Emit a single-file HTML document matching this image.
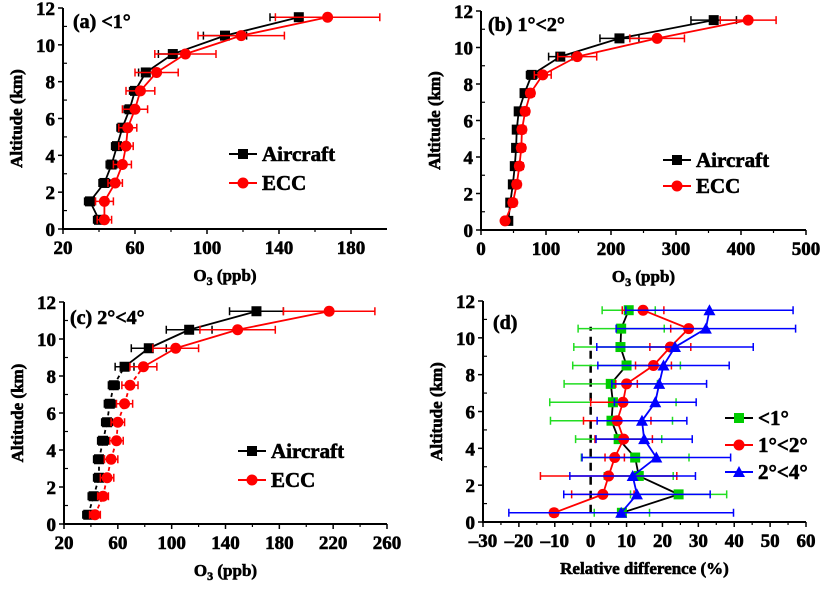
<!DOCTYPE html>
<html><head><meta charset="utf-8"><style>
body{margin:0;background:#fff;}
</style></head><body>
<svg id="c" width="823" height="584" viewBox="0 0 823 584"></svg>
<script>
const alts=[0.5,1.5,2.5,3.5,4.5,5.5,6.5,7.5,8.5,9.5,10.5,11.5];
const aAir=[40,35,43,47,50,53,57,60,66,81,110,151];
const aAirErr=[3,3,3,3,3,3,3,3,4,8,12,16];
const aEcc=[43,43,49,53,55,56,60,63,72,88,119,167];
const aEccErr=[4,5,4,5,4,5,7,8,12,17,24,29];
const bAir=[42,45,49,52,54,55,58,67,78,122,213,358];
const bAirErr=[3,3,3,3,3,3,3,4,8,18,30,35];
const bEcc=[37,49,55,59,62,63,68,76,95,148,271,411];
const bEccErr=[5,6,6,6,6,6,6,6,13,30,42,43];
const cAir=[38,42,46,46,49,52,54,57,65,83,113,163];
const cAirErr=[4,4,4,4,4,4,4,4,7,13,17,20];
const cEcc=[43,49,52,55,59,60,65,69,79,103,149,217];
const cEccErr=[4,4,5,5,5,5,6,6,10,17,28,34];
const dLt1=[8.7,24.5,13.4,12.4,7.8,5.8,6.2,5.6,10,8.3,8.5,10.6];
const dLt1Err=[7.7,13.4,9.6,15,12,17,17.6,13,15,13,12,7.4];
const d12=[-10.2,3.4,5,6.7,9.2,7.4,9,10,17.5,22.2,27.3,14.6];
const d12Err=[1,8.7,19,2.7,8,9.4,9,3,5,5.7,5,5.8];
const d24=[8.5,12.9,11.7,18.3,14.9,14.3,18,19.1,20.3,23.5,32.1,33.1];
const d24Err=[31.3,20.4,17.5,20.7,13.4,12.5,11.4,13.2,18.3,21.8,25,23.3];
const aTicks=[20,60,100,140,180];
const bTicks=[0,100,200,300,400,500];
const cTicks=[20,60,100,140,180,220,260];
const dTicks=[-30,-20,-10,0,10,20,30,40,50,60];
const yTicks=[0,2,4,6,8,10,12];

const NS="http://www.w3.org/2000/svg";
const svg=document.getElementById('c');
function el(t,a,p){const e=document.createElementNS(NS,t);for(const k in a)e.setAttribute(k,a[k]);(p||svg).appendChild(e);return e;}
function txt(a,p){a['font-family']="'Liberation Serif', serif";a['font-weight']='bold';a['stroke']='#000';a['stroke-width']='0.6';a['fill']='#000';return el('text',a,p);}

function panel(cfg){
  const g=el('g',{});
  
  
  const X=v=>cfg.x0+(v-cfg.xmin)/(cfg.xmax-cfg.xmin)*(cfg.x1-cfg.x0);
  const Y=v=>cfg.y0-(v/12)*(cfg.y0-cfg.y1);
  const ax=el('path',{d:`M${cfg.x0},${cfg.y1} V${cfg.y0} H${cfg.x1}`,stroke:'#000','stroke-width':2,fill:'none'},g);
  
  
  const step=cfg.xt[1]-cfg.xt[0];
  cfg.xt.forEach((t,i)=>{
    el('line',{x1:X(t),x2:X(t),y1:cfg.y0,y2:cfg.y0+5,stroke:'#000','stroke-width':1.5},g);
    if(i<cfg.xt.length-1)el('line',{x1:X(t+step/2),x2:X(t+step/2),y1:cfg.y0,y2:cfg.y0+3,stroke:'#000','stroke-width':1.2},g);
    const tx=txt({x:X(t),y:cfg.y0+25,'text-anchor':'middle','font-size':19},g);
    tx.textContent=(t<0?'\u2013'+(-t):t);
    
    
  });
  yTicks.forEach((t,i)=>{
    el('line',{x1:cfg.x0-5,x2:cfg.x0,y1:Y(t),y2:Y(t),stroke:'#000','stroke-width':1.5},g);
    if(i<yTicks.length-1)el('line',{x1:cfg.x0,x2:cfg.x0+4,y1:Y(t+1),y2:Y(t+1),stroke:'#000','stroke-width':1.2},g);
    const tx=txt({x:cfg.x0-8,y:Y(t)+7,'text-anchor':'end','font-size':19},g);
    tx.textContent=t;
    
    
  });
  const yt=txt({x:0,y:0,'text-anchor':'middle','font-size':17,transform:`translate(${cfg.x0-41},${(cfg.y0+cfg.y1)/2}) rotate(-90)`},g);
  yt.textContent='Altitude (km)';
  
  
  const xt=txt({x:(cfg.x0+cfg.x1)/2,y:cfg.y0+52,'text-anchor':'middle','font-size':17},g);
  if(cfg.xtitle){xt.textContent=cfg.xtitle;}
  else{xt.innerHTML='O<tspan font-size="12" dy="4">3</tspan><tspan dy="-4"> (ppb)</tspan>';}
  
  
  const pl=txt({x:cfg.lx,y:cfg.ly,'font-size':20},g);
  pl.textContent=cfg.label;
  
  
  if(cfg.zero){
    const z=el('line',{x1:X(0),x2:X(0),y1:Y(0.5),y2:Y(10.6),stroke:'#000','stroke-width':2.5,'stroke-dasharray':'8,6'},g);
    
    
  }
  cfg.series.forEach(s=>{
    const sg=el('g',{},g);
    
    
    s.v.forEach((v,i)=>{
      const y=Y(alts[i]),a=X(v-s.e[i]),b=X(v+s.e[i]);
      const eb=el('path',{d:`M${a},${y}H${b}M${a},${y-4}V${y+4}M${b},${y-4}V${y+4}`,stroke:s.ec,'stroke-width':1.5,fill:'none'},sg);
      
      
    });
    for(let i=0;i<s.v.length-1;i++){
      const ln=el('line',{x1:X(s.v[i]),y1:Y(alts[i]),x2:X(s.v[i+1]),y2:Y(alts[i+1]),stroke:s.lc,'stroke-width':1.8},sg);
      if(cfg.dash&&alts[i+1]<=8.5)ln.setAttribute('stroke-dasharray','4,3');
      
      
    }
    s.v.forEach((v,i)=>{
      const m=marker(s.m,X(v),Y(alts[i]),s.mc,sg);
      
      
    });
  });
  cfg.series.forEach((s,i)=>{
    const y=cfg.legY+i*cfg.legDy;
    const lg=el('g',{},g);
    
    
    el('line',{x1:cfg.legX,x2:cfg.legX+28,y1:y,y2:y,stroke:s.lc,'stroke-width':2},lg);
    marker(s.m,cfg.legX+14,y,s.mc,lg);
    const t=txt({x:cfg.legX+33,y:y+7,'font-size':21},lg);
    t.textContent=s.label;
  });
}
function marker(m,x,y,c,p){
  if(m==='s')return el('rect',{x:x-5,y:y-5,width:10,height:10,fill:c},p);
  if(m==='c')return el('circle',{cx:x,cy:y,r:5.5,fill:c},p);
  return el('path',{d:`M${x},${y-6}L${x+6},${y+5}L${x-6},${y+5}Z`,fill:c},p);
}
panel({name:'panel-a',x0:63,x1:387,xmin:20,xmax:200,y0:229,y1:8,xt:aTicks,label:'(a) <1°',lx:73,ly:28,legX:229,legY:154,legDy:29,
 series:[{name:'aircraft',label:'Aircraft',v:aAir,e:aAirErr,m:'s',mc:'#000',lc:'#000',ec:'#000'},{name:'ecc',label:'ECC',v:aEcc,e:aEccErr,m:'c',mc:'#f00',lc:'#f00',ec:'#f00'}]});
panel({name:'panel-b',x0:481,x1:806,xmin:0,xmax:500,y0:230,y1:11,xt:bTicks,label:'(b) 1°<2°',lx:488,ly:31,legX:663,legY:160,legDy:26,
 series:[{name:'aircraft',label:'Aircraft',v:bAir,e:bAirErr,m:'s',mc:'#000',lc:'#000',ec:'#000'},{name:'ecc',label:'ECC',v:bEcc,e:bEccErr,m:'c',mc:'#f00',lc:'#f00',ec:'#f00'}]});
panel({name:'panel-c',x0:64,x1:387,xmin:20,xmax:260,y0:524,y1:302,xt:cTicks,label:'(c) 2°<4°',lx:70,ly:324,legX:238,legY:451,legDy:29,dash:true,
 series:[{name:'aircraft',label:'Aircraft',v:cAir,e:cAirErr,m:'s',mc:'#000',lc:'#000',ec:'#000'},{name:'ecc',label:'ECC',v:cEcc,e:cEccErr,m:'c',mc:'#f00',lc:'#f00',ec:'#f00'}]});
panel({name:'panel-d',x0:483,x1:806,xmin:-30,xmax:60,y0:522,y1:301,xt:dTicks,label:'(d)',lx:493,ly:329,legX:725,legY:418,legDy:27,zero:true,xtitle:'Relative difference (%)',
 series:[{name:'lt1',label:'<1°',v:dLt1,e:dLt1Err,m:'s',mc:'#0c0',lc:'#000',ec:'#2d2'},{name:'1to2',label:'1°<2°',v:d12,e:d12Err,m:'c',mc:'#f00',lc:'#f00',ec:'#f00'},{name:'2to4',label:'2°<4°',v:d24,e:d24Err,m:'t',mc:'#00f',lc:'#00f',ec:'#00f'}]});
</script>
</body></html>
